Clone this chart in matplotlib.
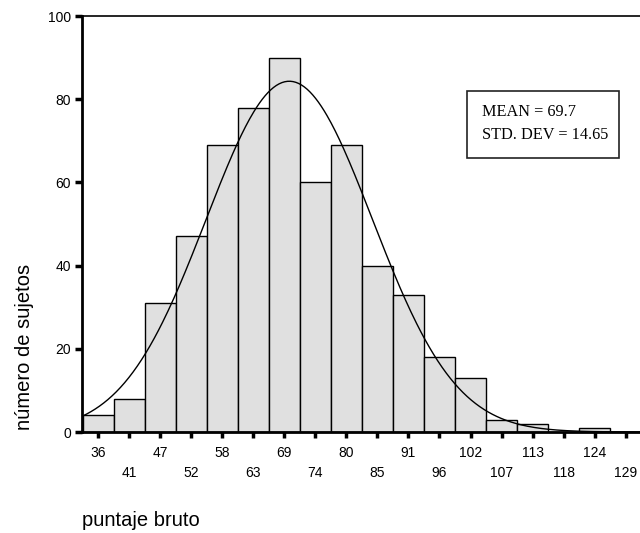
import matplotlib.pyplot as plt
import numpy as np

# histogram of raw scores (puntaje bruto)
bin_labels = [36, 41, 47, 52, 58, 63, 69, 74, 80, 85, 91, 96, 102, 107, 113, 118, 124, 129]
counts = [4, 8, 31, 47, 69, 78, 90, 60, 69, 40, 33, 18, 13, 3, 2, 0, 1, 0]
mean_val = 69.7
std_val = 14.65

bin_w = (bin_labels[-1] - bin_labels[0]) / (len(bin_labels) - 1)
centers = np.array([bin_labels[0] + i * bin_w for i in range(len(bin_labels))])
n_total = sum(counts)

plt.rcParams['font.family'] = ['Liberation Sans', 'DejaVu Sans']

fig = plt.figure(figsize=(6.4, 5.33), dpi=100)
ax = fig.add_axes([82 / 640, 1 - 432 / 533, 1 - 82 / 640 + 0.01, (432 - 16) / 533])

ax.bar(centers, counts, width=bin_w, color='#e0e0e0', edgecolor='black', linewidth=1.0, zorder=2)

# normal curve from the reported mean / std dev
xs = np.linspace(centers[0] - bin_w / 2, 132, 400)
ys = n_total * bin_w * np.exp(-0.5 * ((xs - mean_val) / std_val) ** 2) / (std_val * np.sqrt(2 * np.pi))
ax.plot(xs, ys, color='black', linewidth=1.0, zorder=3)

ax.set_xlim(centers[0] - bin_w / 2 - 0.1, centers[0] + (640 - 98) / 31 * bin_w + 1)
ax.set_ylim(0, 100)

ax.set_yticks([0, 20, 40, 60, 80, 100])
ax.set_xticks(centers)
labs = [str(v) if i % 2 == 0 else '\n' + str(v) for i, v in enumerate(bin_labels)]
ax.set_xticklabels(labs, linespacing=1.6)
ax.tick_params(axis='x', direction='out', length=4, width=2.5, labelsize=10, pad=6)
ax.tick_params(axis='y', direction='out', length=5, width=2.5, labelsize=10, pad=3)

ax.spines['left'].set_linewidth(2)
ax.spines['bottom'].set_linewidth(2)
ax.spines['top'].set_linewidth(1.2)
ax.spines['right'].set_visible(False)

fig.text(25 / 640, 1 - 347 / 533, 'número de sujetos', rotation=90, ha='center', va='center', fontsize=14.5)
fig.text(82 / 640, 1 - 520 / 533, 'puntaje bruto', ha='left', va='center', fontsize=14.5)

# stats box
box = plt.Rectangle((467 / 640, 1 - 158 / 533), (619 - 467) / 640, (158 - 91) / 533,
                    transform=fig.transFigure, fill=False, edgecolor='#222222', linewidth=1.2)
fig.add_artist(box)
fig.text(482 / 640, 1 - 112 / 533, 'MEAN = 69.7', ha='left', va='center', fontsize=11.7, family='Liberation Serif')
fig.text(482 / 640, 1 - 135 / 533, 'STD. DEV = 14.65', ha='left', va='center', fontsize=11.7, family='Liberation Serif')

fig.savefig('out.png', dpi=100)
